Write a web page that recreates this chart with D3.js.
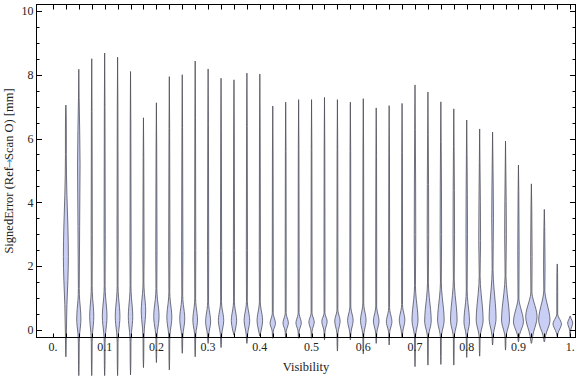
<!DOCTYPE html>
<html>
<head>
<meta charset="utf-8">
<script src="https://cdnjs.cloudflare.com/ajax/libs/d3/7.8.5/d3.min.js"></script>
<style>
    html, body { margin: 0; padding: 0; background: #fff; }
    svg { display: block; }
    .tick-label { font-family: "Liberation Serif", "Times New Roman", serif; font-size: 12px; fill: #222; }
    .axis-title { font-family: "Liberation Serif", "Times New Roman", serif; font-size: 12.5px; fill: #222; }
</style>
</head>
<body>
<svg id="chart" width="576" height="377"></svg>
<script>
// Posições dos violinos (Visibility).
const visibility = [0.025, 0.05, 0.075, 0.1, 0.125, 0.15, 0.175, 0.2, 0.225, 0.25,
    0.275, 0.3, 0.325, 0.35, 0.375, 0.4, 0.425, 0.45, 0.475, 0.5,
    0.525, 0.55, 0.575, 0.6, 0.625, 0.65, 0.675, 0.7, 0.725, 0.75,
    0.775, 0.8, 0.825, 0.85, 0.875, 0.9, 0.925, 0.95, 0.975, 1.0];

// Mínimo e máximo de cada distribuição [mm].
const lows = [-0.84, -1.43, -1.43, -1.43, -1.43, -1.41, -1.18, -1.02, -1.25, -0.73,
    -0.84, -0.42, -0.55, -0.16, -0.42, -0.19, -0.26, -0.24, -0.26, -0.26,
    -0.31, -0.66, -0.31, -0.75, -0.42, -0.47, -0.24, -1.15, -1.10, -1.08,
    -1.10, -0.86, -0.82, -0.47, -0.63, -0.37, -0.42, -0.37, -0.21, -0.21];
const highs = [7.05, 8.17, 8.50, 8.68, 8.55, 8.10, 6.65, 7.12, 7.94, 8.00,
    8.43, 8.18, 7.89, 7.84, 8.05, 8.02, 7.02, 7.14, 7.22, 7.22,
    7.29, 7.22, 7.14, 7.25, 6.96, 7.03, 7.10, 7.68, 7.46, 7.15,
    6.93, 6.58, 6.30, 6.20, 5.92, 5.17, 4.58, 3.78, 2.07, 0.44];

// Moda e densidade relativa no pico.
const modes = [2.30, 0.35, 0.42, 0.42, 0.42, 0.42, 0.60, 0.42, 0.40, 0.35,
    0.31, 0.26, 0.30, 0.30, 0.30, 0.30, 0.21, 0.22, 0.22, 0.25,
    0.27, 0.28, 0.30, 0.30, 0.28, 0.26, 0.31, 0.31, 0.28, 0.31,
    0.31, 0.26, 0.31, 0.36, 0.31, 0.26, 0.42, 0.31, 0.19, 0.22];
const peaks = [0.44, 0.37, 0.36, 0.41, 0.41, 0.39, 0.39, 0.47, 0.44, 0.44,
    0.41, 0.44, 0.47, 0.47, 0.49, 0.49, 0.47, 0.47, 0.47, 0.47,
    0.47, 0.47, 0.49, 0.49, 0.49, 0.49, 0.49, 0.53, 0.58, 0.58,
    0.58, 0.49, 0.61, 0.61, 0.70, 0.88, 1.00, 1.00, 0.74, 0.44];

// Extensão do corpo principal de cada violino.
const bulgeLows = [-0.20, -0.40, -0.40, -0.40, -0.40, -0.40, -0.30, -0.30, -0.30, -0.30,
    -0.25, -0.25, -0.25, -0.25, -0.25, -0.25, -0.08, -0.08, -0.08, -0.08,
    -0.08, -0.15, -0.15, -0.20, -0.15, -0.12, -0.15, -0.25, -0.25, -0.25,
    -0.25, -0.25, -0.25, -0.25, -0.25, -0.25, -0.35, -0.30, -0.15, -0.05];
const bulgeHighs = [5.50, 1.30, 1.40, 1.40, 1.40, 1.40, 1.50, 1.30, 1.20, 1.10,
    1.00, 0.90, 0.90, 0.90, 0.90, 0.90, 0.55, 0.55, 0.55, 0.55,
    0.55, 0.65, 0.75, 0.85, 0.75, 0.70, 0.80, 1.40, 1.50, 1.50,
    1.60, 1.25, 1.70, 1.90, 1.70, 1.00, 1.20, 1.25, 0.50, 0.44];

// Ombro da cauda superior (valor e densidade).
const shoulderVals = [6.2, 5.2, 3.0, 3.0, 3.0, 2.5, 2.5, 2.5, 2.5, 2.5,
    2.5, 2.5, 2.5, 2.5, 2.5, 2.5, 2.0, 2.0, 2.0, 2.0,
    2.0, 2.0, 2.0, 2.0, 2.0, 2.0, 2.0, 3.0, 3.0, 3.0,
    3.0, 3.0, 2.8, 3.5, 3.0, 2.5, 2.3, 2.0, 1.2, 0.44];
const shoulderDens = [0.08, 0.22, 0.10, 0.10, 0.10, 0.10, 0.10, 0.11, 0.11, 0.11,
    0.10, 0.10, 0.10, 0.10, 0.10, 0.10, 0.09, 0.09, 0.09, 0.09,
    0.09, 0.09, 0.09, 0.09, 0.09, 0.09, 0.09, 0.13, 0.13, 0.13,
    0.13, 0.13, 0.16, 0.15, 0.15, 0.12, 0.13, 0.13, 0.08, 0.08];

// Ticks.
const xTickLabels = ["0.", "0.1", "0.2", "0.3", "0.4", "0.5", "0.6", "0.7", "0.8", "0.9", "1."];
const xTickValues = [0, 0.1, 0.2, 0.3, 0.4, 0.5, 0.6, 0.7, 0.8, 0.9, 1.0];
const yTickValues = [0, 2, 4, 6, 8, 10];

const frame = { left: 36.5, right: 575.5, top: 4.5, bottom: 337.5 };

const svg = d3.select('#chart');

const x = d3.scaleLinear().domain([-0.0318, 1.0103]).range([frame.left, frame.right]);
const y = d3.scaleLinear().domain([-0.235, 10.2]).range([frame.bottom, frame.top]);
// Densidade relativa -> meia largura em px.
const w = d3.scaleLinear().domain([0, 1]).range([0, 5.7]);

const tailDensity = 0.075;

// Monta os nós do contorno de um violino.
function knots(i) {
    var lo = lows[i], hi = highs[i], m = modes[i], p = peaks[i];
    var bl = bulgeLows[i], bh = bulgeHighs[i];
    var t = Math.max(tailDensity, p * 0.09);
    var pts = [[lo, 0], [lo + (bl - lo) * 0.3, t * 0.7], [bl, t]];
    pts.push([m - (m - bl) * 0.6, p * 0.42]);
    pts.push([m - (m - bl) * 0.3, p * 0.8]);
    pts.push([m, p]);
    pts.push([m + (bh - m) * 0.3, p * 0.8]);
    pts.push([m + (bh - m) * 0.6, p * 0.42]);
    pts.push([bh, t]);
    var sv = shoulderVals[i], sd = shoulderDens[i];
    if (sv > bh && sv < hi) {
        pts.push([sv, sd]);
        pts.push([sv + (hi - sv) * 0.7, Math.min(sd, t) * 0.75]);
    }
    var out = [];
    pts.forEach(function (d) {
        if (d[0] < hi && (out.length === 0 || d[0] > out[out.length - 1][0])) out.push(d);
    });
    out.push([hi, 0]);
    return out;
}

const area = d3.area()
    .curve(d3.curveMonotoneY)
    .y(function (d) { return y(d[0]); });

const violins = svg.append('g').attr('class', 'violins');

visibility.forEach(function (v, i) {
    var cx = x(v);
    violins.append('path')
        .datum(knots(i))
        .attr('d', area
            .x0(function (d) { return cx - w(d[1]); })
            .x1(function (d) { return cx + w(d[1]); }))
        .attr('fill', '#c9cff4')
        .attr('stroke', '#4a4a54')
        .attr('stroke-opacity', 0.85)
        .attr('stroke-width', 0.9);
});

// Moldura.
const axes = svg.append('g').attr('stroke', '#000').attr('stroke-width', 1).attr('fill', 'none');

axes.append('rect')
    .attr('x', frame.left).attr('y', frame.top)
    .attr('width', frame.right - frame.left)
    .attr('height', frame.bottom - frame.top);

// Ticks horizontais a cada 0.025 (topo e base).
const xTicks = d3.range(0, 41).map(function (k) { return k * 0.025; });
xTicks.forEach(function (v) {
    var px = Math.round(x(v)) + 0.5;
    axes.append('line').attr('x1', px).attr('x2', px).attr('y1', frame.bottom).attr('y2', frame.bottom - 4);
    axes.append('line').attr('x1', px).attr('x2', px).attr('y1', frame.top).attr('y2', frame.top + 5);
});

// Ticks verticais: maiores a cada 2, menores a cada 0.5.
d3.range(0, 21).map(function (k) { return k * 0.5; }).forEach(function (v) {
    var py = Math.round(y(v)) + 0.5;
    var len = (v % 2 === 0) ? 5.5 : 3;
    axes.append('line').attr('x1', frame.left).attr('x2', frame.left + len).attr('y1', py).attr('y2', py);
    axes.append('line').attr('x1', frame.right).attr('x2', frame.right - len).attr('y1', py).attr('y2', py);
});

// Rótulos.
svg.selectAll('.xlabel')
    .data(xTickValues)
    .enter().append('text')
    .attr('class', 'tick-label')
    .attr('x', function (d) { return x(d); })
    .attr('y', 351)
    .attr('text-anchor', 'middle')
    .text(function (d, i) { return xTickLabels[i]; });

svg.selectAll('.ylabel')
    .data(yTickValues)
    .enter().append('text')
    .attr('class', 'tick-label')
    .attr('x', 33.5)
    .attr('y', function (d) { return y(d) + 4.2; })
    .attr('text-anchor', 'end')
    .text(function (d) { return d; });

svg.append('text')
    .attr('class', 'axis-title')
    .attr('x', (frame.left + frame.right) / 2)
    .attr('y', 371)
    .attr('text-anchor', 'middle')
    .text('Visibility');

const yTitle = svg.append('text')
    .attr('class', 'axis-title')
    .attr('text-anchor', 'middle')
    .attr('transform', 'translate(12.5,' + ((frame.top + frame.bottom) / 2) + ') rotate(-90)');
yTitle.append('tspan').text('SignedError (Ref');
yTitle.append('tspan')
    .attr('fill', '#2b8fd4')
    .attr('dx', -1.2)
    .style('font-family', '"DejaVu Sans"')
    .style('font-size', '11.5px')
    .text('\u2192');
yTitle.append('tspan').attr('dx', -1.2).text('Scan O) [mm]');
</script>
</body>
</html>
